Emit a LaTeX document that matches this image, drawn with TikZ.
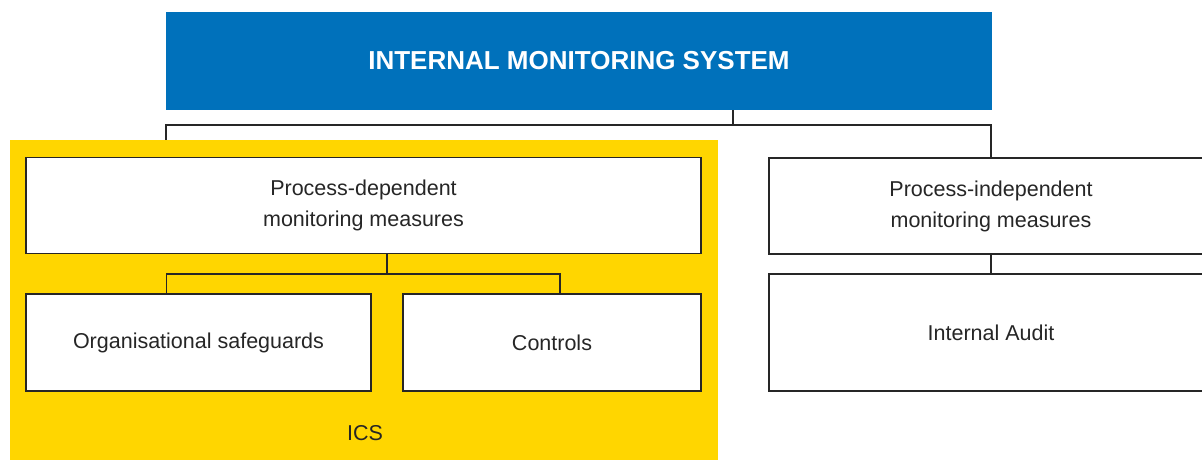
\documentclass[tikz,border=0pt]{standalone}
\usepackage{fontspec}
\setmainfont{Liberation Sans}
\usepackage{xcolor}
\definecolor{imsblue}{RGB}{0,113,187}
\definecolor{icsyellow}{RGB}{255,214,0}
\tikzset{
  box/.style={draw=black!85, line width=1.4pt, fill=white, inner sep=0pt,
    align=center, text=black!85, font=\fontsize{21.5}{31}\selectfont},
  link/.style={draw=black!85, line width=1.4pt}
}

\begin{document}
\begin{tikzpicture}[x=1pt,y=-1pt]
        \clip (0,0) rectangle (1202,459);
        \fill[white] (0,0) rectangle (1202,459);
        % 顶部标题
        \node[fill=imsblue, minimum width=826pt, minimum height=98pt, text=white,
          font=\bfseries\fontsize{26}{30}\selectfont] (top) at (579,61) {INTERNAL MONITORING SYSTEM};
        % ICS 区域
        \node[fill=icsyellow, minimum width=708pt, minimum height=320pt] (ics) at (364,300) {};
        \node[text=black!85, font=\fontsize{21.5}{26}\selectfont] (icslabel) at (365,433) {ICS};
        % 方框
        \node[box, minimum width=675pt, minimum height=96pt] (pdep) at (363.5,205.5)
          {Process-dependent\\monitoring measures};
        \node[box, minimum width=345pt, minimum height=97pt] (org) at (198.5,342.5)
          {Organisational safeguards};
        \node[box, minimum width=298pt, minimum height=97pt] (ctrl) at (552,342.5) {Controls};
        \node[box, minimum width=444pt, minimum height=96pt] (pind) at (991,206)
          {Process-independent\\monitoring measures};
        \node[box, minimum width=444pt, minimum height=117pt] (audit) at (991,332.5) {Internal Audit};
        % 连线
        \coordinate (j1) at (733,125);
        \coordinate (j2) at (387,274);
        \draw[link] (top.south -| j1) -- (j1);
        \draw[link] (ics.north -| top.west) |- (j1) -| (pind.north);
        \draw[link] (pdep.south -| j2) -- (j2);
        \draw[link] ([xshift=-32pt]org.north) |- (j2) -| ([xshift=8pt]ctrl.north);
        \draw[link] (pind.south) -- (audit.north);
    \end{tikzpicture}
\end{document}
